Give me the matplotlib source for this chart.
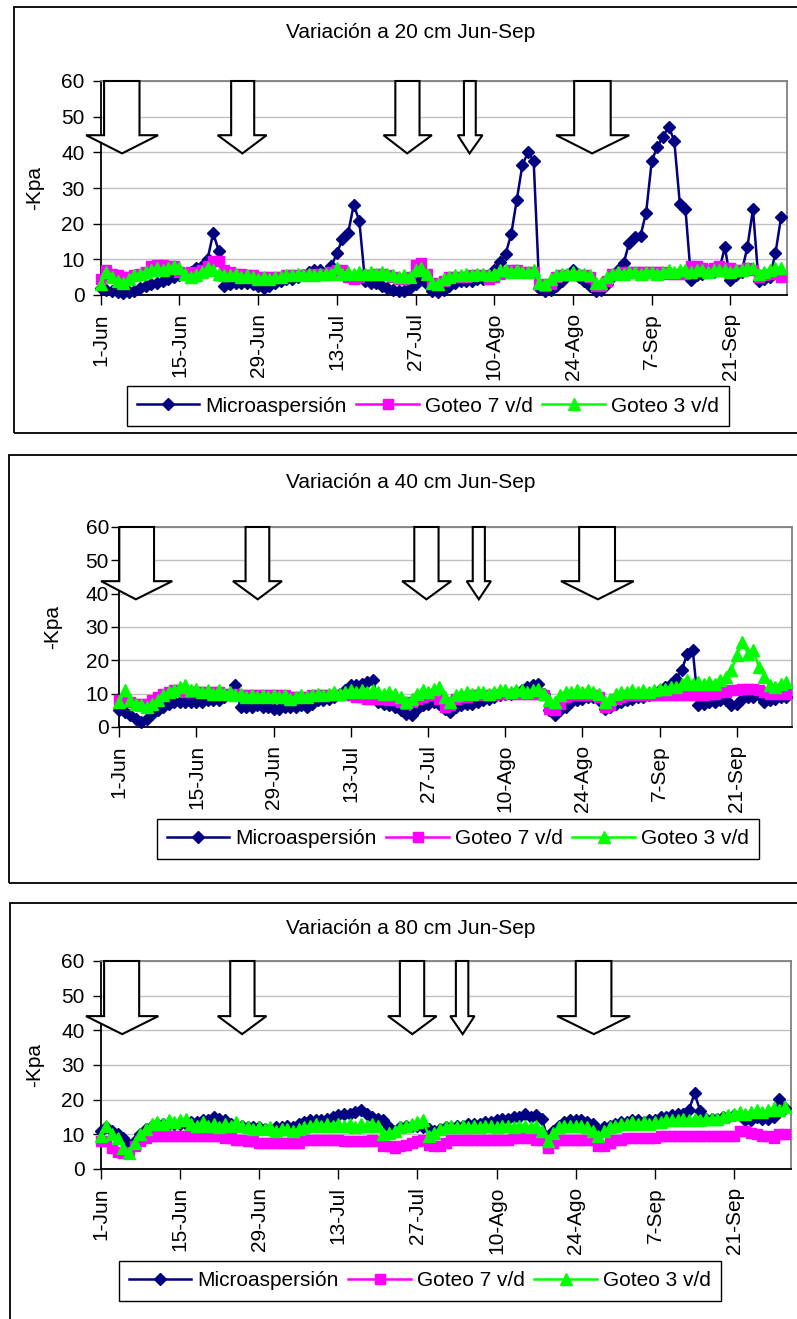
import numpy as np
import matplotlib
matplotlib.use("Agg")
import matplotlib.pyplot as plt
from matplotlib.patches import Rectangle, Polygon

plt.rcParams['font.family'] = ['Liberation Sans', 'DejaVu Sans']

# Days counted from 1-Jun (1-Jun .. 30-Sep)
days = np.arange(122)
tick_days = [0, 14, 28, 42, 56, 70, 84, 98, 112]
tick_labels = ['1-Jun', '15-Jun', '29-Jun', '13-Jul', '27-Jul', '10-Ago', '24-Ago', '7-Sep', '21-Sep']
series_names = ['Microaspersión', 'Goteo 7 v/d', 'Goteo 3 v/d']

# ---- 20 cm ----
micro_20 = [2.0, 1.5, 1.0, 0.8, 0.5, 0.8, 1.2, 2.0, 2.5, 3.0,
            3.5, 4.0, 4.5, 5.0, 5.5, 6.0, 6.5, 7.5, 8.0, 10.0,
            17.3, 12.4, 2.5, 3.0, 3.5, 3.5, 3.5, 3.0, 2.5, 2.0,
            2.5, 3.5, 4.0, 4.5, 4.5, 5.0, 5.5, 6.5, 7.0, 7.0,
            6.0, 8.0, 11.7, 15.8, 17.3, 25.3, 20.7, 4.0, 3.5, 3.5,
            2.5, 2.0, 1.5, 1.0, 1.0, 2.0, 3.0, 4.5, 3.0, 1.0,
            0.8, 1.5, 2.5, 3.5, 4.0, 4.0, 4.0, 4.5, 4.5, 5.0,
            7.0, 9.3, 11.5, 17.0, 26.7, 36.5, 40.0, 37.6, 1.9, 1.2,
            1.5, 2.5, 4.0, 5.5, 7.0, 5.0, 4.0, 2.5, 1.0, 1.5,
            3.0, 5.0, 7.0, 8.9, 14.7, 16.4, 16.6, 23.1, 37.6, 41.6,
            44.4, 47.2, 43.3, 25.5, 24.0, 4.2, 5.5, 6.0, 6.5, 6.5,
            7.0, 13.4, 4.2, 5.5, 6.5, 13.4, 24.0, 3.8, 4.5, 5.0,
            11.7, 21.8]
goteo7_20 = [4.5, 7.0, 6.0, 5.5, 5.0, 5.0, 5.5, 6.0, 6.5, 8.0,
             8.5, 8.5, 8.0, 8.0, 6.5, 6.0, 6.5, 6.0, 7.0, 8.0,
             9.5, 9.5, 7.0, 6.5, 6.0, 6.0, 5.5, 5.5, 5.0, 5.0,
             5.0, 5.0, 5.0, 5.5, 5.5, 5.5, 5.5, 5.5, 6.0, 6.0,
             6.0, 6.5, 7.0, 7.0, 5.0, 4.5, 5.0, 5.5, 5.5, 6.0,
             6.0, 5.5, 5.0, 4.5, 4.5, 5.0, 8.5, 9.0, 6.0, 3.5,
             3.0, 4.0, 5.0, 5.0, 5.0, 5.0, 5.5, 5.5, 5.5, 4.5,
             5.0, 6.0, 6.5, 7.0, 7.0, 6.5, 6.5, 6.5, 3.0, 2.5,
             3.0, 5.0, 5.5, 5.5, 5.5, 5.5, 5.5, 5.0, 2.5, 2.5,
             4.0, 6.0, 6.0, 6.5, 6.5, 6.5, 6.5, 6.5, 6.5, 6.5,
             6.5, 6.0, 6.0, 6.0, 6.0, 8.0, 8.0, 7.5, 7.0, 7.5,
             8.0, 7.5, 7.5, 7.0, 7.0, 7.5, 7.0, 5.0, 5.5, 6.0,
             6.5, 5.0]
goteo3_20 = [3.0, 6.5, 5.0, 4.0, 3.5, 4.5, 5.5, 6.0, 6.5, 7.0,
             7.5, 7.0, 7.5, 8.0, 7.5, 6.0, 5.0, 5.5, 6.5, 7.5,
             7.0, 6.0, 5.5, 5.5, 6.0, 5.0, 5.5, 5.0, 4.5, 5.0,
             4.5, 5.0, 5.0, 5.5, 5.5, 6.0, 5.5, 6.0, 5.5, 6.0,
             6.0, 6.0, 7.5, 6.0, 6.5, 6.0, 6.5, 6.0, 6.5, 6.0,
             6.5, 6.0, 5.5, 5.0, 5.5, 5.0, 7.0, 7.5, 6.0, 3.5,
             3.0, 4.5, 5.0, 5.5, 5.5, 6.0, 5.5, 6.0, 6.0, 5.5,
             6.0, 7.0, 7.0, 6.5, 7.0, 6.5, 6.5, 7.0, 3.5, 3.0,
             4.5, 5.5, 6.0, 6.0, 6.5, 6.0, 6.0, 5.5, 3.5, 3.5,
             5.0, 6.0, 6.5, 6.0, 6.5, 6.5, 6.0, 6.5, 6.5, 6.0,
             6.5, 7.0, 6.5, 7.0, 7.0, 6.5, 7.0, 7.0, 6.5, 7.0,
             7.0, 7.0, 6.5, 7.0, 7.0, 7.5, 7.5, 6.0, 6.5, 7.0,
             7.5, 7.5]

# ---- 40 cm ----
micro_40 = [5.0, 4.5, 3.5, 2.5, 1.5, 2.5, 4.0, 5.0, 6.0, 7.0,
            7.5, 7.5, 7.5, 7.5, 7.5, 7.5, 8.0, 8.0, 8.0, 9.0,
            10.0, 12.5, 6.0, 6.0, 6.0, 6.5, 6.0, 6.0, 5.5, 5.5,
            6.0, 6.0, 6.0, 6.5, 6.0, 7.0, 8.0, 8.0, 8.5, 9.0,
            10.0, 11.0, 12.5, 12.5, 13.0, 13.5, 14.0, 7.5, 7.0, 6.5,
            6.0, 5.0, 4.0, 3.5, 5.5, 6.5, 7.0, 7.5, 7.0, 5.5,
            4.5, 6.0, 6.5, 7.0, 7.0, 7.5, 8.0, 8.5, 9.0, 9.5,
            10.0, 10.0, 10.5, 11.0, 12.0, 12.5, 13.0, 10.0, 5.0, 3.5,
            5.0, 6.0, 7.5, 8.0, 8.5, 9.0, 9.0, 8.0, 5.5, 6.0,
            7.0, 7.5, 8.0, 8.5, 9.0, 9.0, 9.5, 10.0, 11.0, 12.0,
            13.0, 14.5, 17.0, 22.0, 23.0, 6.5, 7.0, 7.5, 7.5, 8.0,
            8.0, 6.5, 7.0, 8.5, 9.0, 9.0, 9.5, 7.5, 8.0, 8.5,
            9.0, 9.0]
goteo7_40 = [8.0, 8.0, 7.5, 7.0, 7.0, 7.0, 8.0, 9.0, 10.0, 10.5,
             11.0, 11.0, 10.5, 10.5, 10.5, 10.5, 10.5, 10.5, 10.5, 10.0,
             10.0, 10.0, 9.5, 9.5, 9.5, 9.5, 9.5, 9.5, 9.5, 9.5,
             9.5, 9.0, 9.0, 9.0, 9.0, 9.5, 9.5, 9.5, 9.5, 9.5,
             9.5, 9.5, 9.5, 9.0, 9.0, 8.5, 8.5, 8.5, 8.5, 8.0,
             8.0, 7.5, 7.0, 7.5, 8.5, 9.0, 9.5, 9.5, 8.5, 6.0,
             6.5, 8.5, 9.0, 9.0, 9.5, 9.5, 9.5, 9.5, 9.5, 10.0,
             10.0, 10.0, 10.0, 10.0, 10.0, 10.0, 10.0, 9.5, 5.5, 5.0,
             7.0, 9.0, 9.5, 9.5, 9.5, 9.5, 9.5, 9.0, 6.0, 6.5,
             8.5, 9.0, 9.5, 9.5, 9.5, 9.5, 9.5, 9.5, 9.5, 9.5,
             9.5, 9.5, 9.5, 9.5, 9.5, 9.5, 9.5, 10.0, 10.0, 10.5,
             10.5, 11.0, 11.0, 11.5, 11.5, 11.5, 11.0, 10.5, 10.0, 10.0,
             10.0, 10.0]
goteo3_40 = [7.5, 11.0, 8.0, 7.0, 6.5, 6.0, 7.0, 8.0, 9.5, 10.5,
             11.0, 12.0, 12.5, 11.0, 11.5, 10.5, 11.0, 10.0, 11.0, 10.0,
             10.5, 9.5, 10.0, 9.0, 9.5, 9.0, 9.5, 9.0, 9.5, 9.0,
             9.5, 8.5, 9.0, 9.5, 9.0, 9.5, 10.0, 9.5, 10.0, 10.5,
             10.0, 10.5, 11.0, 10.5, 11.0, 10.5, 11.0, 10.5, 10.0, 10.5,
             10.0, 9.0, 7.5, 8.5, 10.0, 11.0, 10.5, 11.5, 12.0, 9.0,
             7.5, 9.5, 10.0, 10.5, 10.0, 10.5, 10.5, 10.0, 10.5, 11.0,
             11.0, 10.5, 11.0, 11.0, 10.5, 11.0, 11.5, 10.0, 8.0, 7.5,
             9.5, 10.5, 10.5, 11.0, 10.5, 11.0, 10.5, 10.0, 7.5, 8.5,
             10.0, 10.5, 10.5, 11.0, 10.5, 11.0, 10.5, 11.0, 11.5, 11.5,
             12.0, 12.0, 13.0, 14.0, 13.0, 13.5, 13.0, 13.5, 13.0, 14.0,
             15.0, 17.0, 21.5, 25.5, 22.0, 23.0, 18.0, 15.0, 12.5, 12.0,
             13.0, 13.5]

# ---- 80 cm ----
micro_80 = [11.0, 12.0, 11.0, 10.0, 9.0, 7.0, 8.0, 10.0, 11.5, 12.5,
            13.0, 13.0, 13.0, 13.0, 13.0, 13.0, 13.5, 13.5, 14.0, 14.0,
            15.0, 14.5, 14.0, 13.0, 12.5, 12.5, 12.0, 12.0, 12.0, 11.5,
            11.5, 12.0, 12.0, 12.5, 12.0, 13.0, 13.5, 14.0, 14.0, 14.0,
            14.5, 15.0, 15.5, 16.0, 16.0, 16.5, 17.0, 16.0, 15.0, 14.5,
            14.0, 12.0, 11.0, 12.0, 12.5, 12.5, 12.5, 12.0, 11.5, 11.0,
            11.5, 12.0, 12.0, 12.5, 12.5, 13.0, 13.0, 13.0, 13.5, 13.5,
            14.0, 14.5, 14.5, 15.0, 15.0, 16.0, 15.0, 15.5, 14.5, 9.0,
            11.0, 12.5, 13.5, 14.0, 14.0, 14.0, 13.5, 13.0, 11.0, 12.0,
            12.5, 13.0, 13.5, 13.5, 14.0, 14.0, 13.5, 14.0, 14.0, 15.0,
            15.0, 15.5, 16.0, 16.0, 17.0, 21.8, 16.8, 14.5, 14.5, 14.5,
            15.0, 15.0, 15.5, 15.5, 14.0, 14.0, 15.0, 14.5, 14.5, 15.0,
            20.2, 17.5]
goteo7_80 = [8.0, 8.0, 6.0, 5.0, 4.5, 5.0, 6.5, 8.0, 9.0, 9.5,
             9.5, 9.5, 9.5, 9.5, 9.5, 9.5, 9.5, 9.5, 9.5, 9.5,
             9.5, 9.5, 9.0, 9.0, 8.5, 8.5, 8.0, 8.0, 7.5, 7.5,
             7.5, 7.5, 7.5, 7.5, 7.5, 7.5, 8.5, 8.5, 8.5, 8.5,
             8.5, 8.5, 8.5, 8.0, 8.0, 8.0, 8.0, 8.0, 8.5, 8.0,
             6.5, 6.5, 6.0, 6.5, 7.0, 7.5, 8.0, 8.5, 7.0, 6.5,
             6.5, 7.5, 8.5, 8.5, 8.5, 8.5, 8.5, 8.5, 8.5, 8.5,
             8.5, 8.5, 8.5, 9.0, 9.0, 9.0, 9.0, 8.5, 8.5, 6.0,
             7.5, 8.5, 8.5, 8.5, 8.5, 8.5, 8.5, 8.5, 6.5, 6.5,
             7.5, 8.5, 8.5, 9.0, 9.0, 9.0, 9.0, 9.0, 9.0, 9.5,
             9.5, 9.5, 9.5, 9.5, 9.5, 9.5, 9.5, 9.5, 9.5, 9.5,
             9.5, 9.5, 9.5, 11.0, 11.0, 10.5, 10.0, 9.5, 9.5, 9.0,
             10.0, 10.0]
goteo3_80 = [9.5, 12.5, 10.0, 9.0, 6.0, 4.5, 7.5, 10.0, 11.5, 13.0,
             13.5, 13.0, 14.0, 13.5, 14.0, 14.5, 13.0, 12.5, 13.5, 12.5,
             13.0, 12.0, 13.0, 12.5, 13.5, 12.5, 12.0, 11.5, 12.0, 11.5,
             12.0, 11.0, 11.5, 11.5, 11.0, 11.5, 12.0, 12.5, 13.0, 12.5,
             13.0, 12.5, 13.0, 12.5, 13.0, 12.0, 13.0, 12.5, 13.0, 12.5,
             10.0, 10.5, 11.0, 12.0, 12.5, 13.0, 13.5, 14.0, 9.5, 10.5,
             11.5, 12.0, 12.5, 12.0, 12.5, 12.0, 12.5, 12.0, 12.5, 12.5,
             12.0, 12.5, 12.5, 12.0, 12.5, 12.5, 12.0, 12.5, 11.0, 8.0,
             10.5, 12.0, 12.5, 12.5, 12.5, 12.5, 12.0, 11.0, 9.5, 11.0,
             12.0, 12.5, 13.0, 13.0, 13.5, 13.0, 13.5, 13.0, 13.5, 13.5,
             14.0, 14.0, 14.0, 14.5, 14.0, 14.5, 14.0, 14.5, 14.5, 14.5,
             15.0, 15.5, 16.0, 16.5, 16.0, 16.5, 17.0, 16.5, 17.0, 17.5,
             17.0, 18.0]

# Block arrows drawn over each chart: shaft left/right, head left/right, tip (days)
arrows_20 = [(0.6, 6.9, -2.6, 10.2, 3.8), (23.2, 27.3, 20.8, 29.5, 25.2),
             (52.4, 56.7, 50.3, 58.9, 54.5), (64.6, 66.7, 63.5, 67.9, 65.6),
             (84.2, 90.7, 81.0, 94.0, 87.4)]
arrows_40 = [(0.0, 6.3, -3.3, 9.6, 3.0), (22.9, 27.2, 20.6, 29.5, 25.1),
             (53.5, 57.9, 51.3, 60.2, 55.7), (64.1, 66.3, 63.0, 67.4, 65.2),
             (83.4, 89.9, 80.1, 93.3, 86.8)]
arrows_80 = [(0.6, 6.8, -2.6, 10.2, 3.8), (22.9, 27.2, 20.7, 29.3, 25.0),
             (52.9, 57.2, 50.8, 59.4, 55.1), (62.8, 65.0, 61.8, 66.1, 64.0),
             (84.0, 90.3, 80.7, 93.6, 87.2)]

W, H = 797, 1319
fig = plt.figure(figsize=(W / 100, H / 100), dpi=100)


def fx(x):
    return x / W


def fy(y):
    return 1 - y / H


def draw_panel(area, box, title, title_y, ylabel_x, micro, goteo7, goteo3,
               arrows, head_y, tip_y, legend_xy, ypad):
    left, top, right, bottom = area

    # outer frame of the chart
    bl, bt, br, bb = box
    fig.patches.append(Rectangle((fx(bl), fy(bb)), (br - bl) / W, (bb - bt) / H,
                                 transform=fig.transFigure, fill=False,
                                 edgecolor='black', lw=1.3))

    ax = fig.add_axes([fx(left), fy(bottom), (right - left) / W, (bottom - top) / H])
    l1, = ax.plot(days, micro, color='#000080', lw=1.8, marker='D', ms=6.5,
                  mec='#000080', clip_on=False, zorder=3)
    l2, = ax.plot(days, goteo7, color='#FF00FF', lw=1.8, marker='s', ms=7.5,
                  mec='#FF00FF', clip_on=False, zorder=4)
    l3, = ax.plot(days, goteo3, color='#00FF00', lw=1.8, marker='^', ms=8.5,
                  mec='#00FF00', clip_on=False, zorder=5)

    ax.set_xlim(0, 122)
    ax.set_ylim(0, 60)
    ax.set_yticks(range(0, 61, 10))
    ax.set_xticks(tick_days)
    ax.set_xticklabels(tick_labels, rotation=90)
    ax.yaxis.grid(True, color='#C0C0C0', lw=1)
    ax.set_axisbelow(True)
    ax.tick_params(axis='x', length=7, width=1, pad=6, labelsize=15)
    ax.tick_params(axis='y', length=6, width=1, pad=ypad, labelsize=15)
    for s in ['left', 'bottom']:
        ax.spines[s].set_color('black')
        ax.spines[s].set_linewidth(1.3)
    for s in ['top', 'right']:
        ax.spines[s].set_color('#808080')
        ax.spines[s].set_linewidth(1.3)

    # irrigation arrows
    for sl, sr, hl, hr, tx in arrows:
        verts = [(sl, 60), (sr, 60), (sr, head_y), (hr, head_y), (tx, tip_y),
                 (hl, head_y), (sl, head_y)]
        ax.add_patch(Polygon(verts, closed=True, facecolor='white', edgecolor='black',
                             lw=1.5, clip_on=False, zorder=10))

    fig.text(fx(411), fy(title_y), title, ha='center', va='center', fontsize=15)
    fig.text(fx(ylabel_x), fy((top + bottom) / 2), '-Kpa', rotation=90,
             ha='center', va='center', fontsize=15)

    leg = ax.legend([l1, l2, l3], series_names, loc='center',
                    bbox_to_anchor=(fx(legend_xy[0]), fy(legend_xy[1])),
                    bbox_transform=fig.transFigure, ncol=3, fontsize=15,
                    frameon=True, fancybox=False, edgecolor='black', framealpha=1,
                    handlelength=3.0, handletextpad=0.3, columnspacing=0.45,
                    borderpad=0.5)
    leg.get_frame().set_linewidth(1.0)
    return ax


draw_panel((100.7, 81, 786.7, 295), (14, 7, 805, 433), 'Variación a 20 cm Jun-Sep', 33, 35,
           micro_20, goteo7_20, goteo3_20, arrows_20, 44.8, 39.7, (428, 406), 5.5)
draw_panel((119.3, 527, 792, 727), (9, 455, 805, 883), 'Variación a 40 cm Jun-Sep', 483, 53,
           micro_40, goteo7_40, goteo3_40, arrows_40, 43.75, 38.3, (458, 839), 1.5)
draw_panel((100.7, 961, 790.7, 1169), (10, 903, 805, 1330), 'Variación a 80 cm Jun-Sep', 929, 35,
           micro_80, goteo7_80, goteo3_80, arrows_80, 44.1, 38.9, (420, 1281), 5.5)

fig.savefig('out.png', dpi=100)
